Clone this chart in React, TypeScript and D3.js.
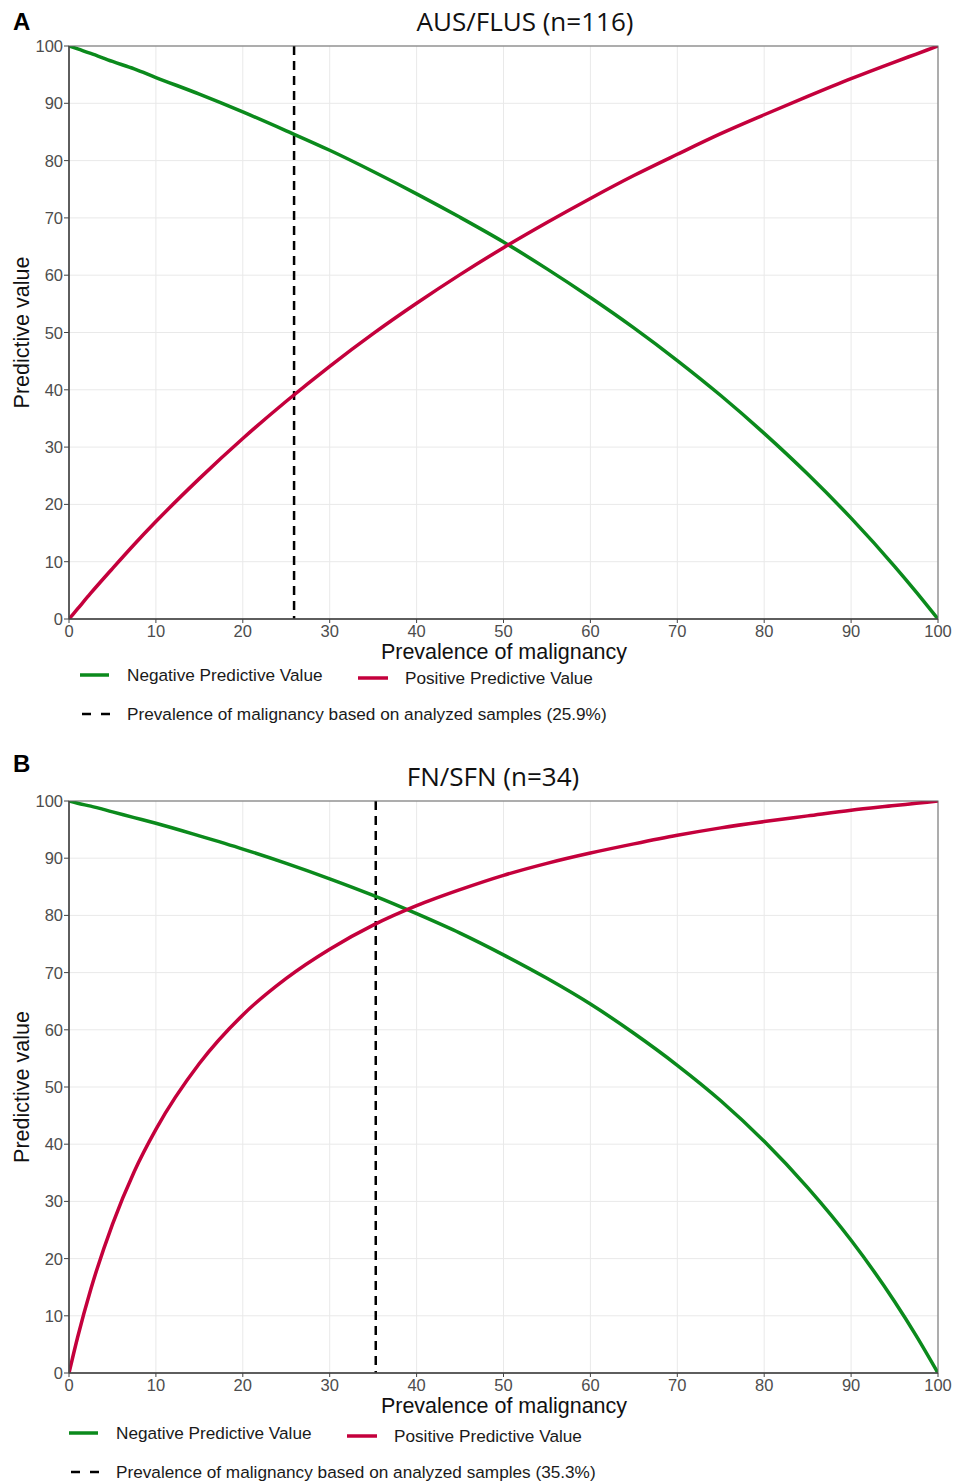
import React from 'react';
import * as d3 from 'd3';

// prevalence of malignancy (%) at which the curves were read
const prevalence = [0, 1, 2.5, 5, 7.5, 10, 15, 20, 25, 30, 35, 40, 45, 50, 55, 60, 65, 70, 75, 80, 85, 90, 95, 97.5, 100];

// panel A: AUS/FLUS
const npvA = [100, 99.5, 98.7, 97.3, 96.0, 94.5, 91.6, 88.5, 85.2, 81.8, 78.1, 74.2, 70.1, 65.8, 61.1, 56.1, 50.8, 45.1, 39.0, 32.4, 25.3, 17.6, 9.2, 4.7, 0];
const ppvA = [0, 1.8, 4.5, 8.8, 13.0, 17.0, 24.5, 31.5, 38.0, 44.1, 49.8, 55.1, 60.1, 64.8, 69.2, 73.4, 77.4, 81.1, 84.7, 88.0, 91.2, 94.3, 97.2, 98.6, 100];

// panel B: FN/SFN
const npvB = [100, 99.6, 99.1, 98.1, 97.1, 96.1, 93.9, 91.6, 89.1, 86.4, 83.5, 80.3, 76.9, 73.1, 69.0, 64.5, 59.4, 53.8, 47.6, 40.5, 32.4, 23.2, 12.5, 6.5, 0];
const ppvB = [0, 6.3, 14.6, 26.0, 35.2, 42.6, 54.1, 62.6, 69.0, 74.1, 78.3, 81.7, 84.5, 87.0, 89.1, 90.9, 92.5, 94.0, 95.3, 96.4, 97.4, 98.4, 99.2, 99.6, 100];

const ticks = [0, 10, 20, 30, 40, 50, 60, 70, 80, 90, 100];

const GREEN = '#0b8a1c';
const RED = '#c4003c';
const SANS = '"Liberation Sans", Arial, sans-serif';

type PanelProps = {
    letter: string;
    letterY: number;
    title: string;
    titleX: number;
    top: number;
    bottom: number;
    npv: number[];
    ppv: number[];
    sample: number;
    legendX: number;
    legendY: number;
};

function Panel({ letter, letterY, title, titleX, top, bottom, npv, ppv, sample, legendX, legendY }: PanelProps) {
    const left = 69;
    const right = 938;
    const x = d3.scaleLinear().domain([0, 100]).range([left, right]);
    const y = d3.scaleLinear().domain([0, 100]).range([bottom, top]);

    const line = d3.line<number>()
        .x((d, i) => x(prevalence[i]))
        .y(d => y(d))
        .curve(d3.curveMonotoneX);

    const clipId = 'clip-' + letter;
    const lg = legendY; // first legend row
    return (
        <g>
            <text x={13} y={letterY} fontFamily={SANS} fontWeight="bold" fontSize={24}>{letter}</text>
            <text x={titleX} y={top - 15} textAnchor="middle" fontFamily='"Open Sans", sans-serif' fontSize={26} fill="#111">{title}</text>

            <clipPath id={clipId}>
                <rect x={left} y={top} width={right - left} height={bottom - top} />
            </clipPath>
            <rect x={left} y={top} width={right - left} height={bottom - top} fill="#fff" />

            {ticks.map(t => (
                <g key={'g' + t}>
                    <line x1={x(t)} x2={x(t)} y1={top} y2={bottom} stroke="#e9e9e9" strokeWidth={1} />
                    <line x1={left} x2={right} y1={y(t)} y2={y(t)} stroke="#e9e9e9" strokeWidth={1} />
                </g>
            ))}

            <g clipPath={`url(#${clipId})`}>
                <line x1={x(sample)} x2={x(sample)} y1={top} y2={bottom} stroke="#000" strokeWidth={2.5} strokeDasharray="9,6" />
                <path d={line(npv) || ''} fill="none" stroke={GREEN} strokeWidth={3.5} />
                <path d={line(ppv) || ''} fill="none" stroke={RED} strokeWidth={3.5} />
            </g>

            <rect x={left} y={top} width={right - left} height={bottom - top} fill="none" stroke="#666" strokeWidth={1} />
            <line x1={left} x2={left} y1={top} y2={bottom} stroke="#444" strokeWidth={1.5} />
            <line x1={left} x2={right} y1={bottom} y2={bottom} stroke="#444" strokeWidth={1.5} />

            {ticks.map(t => (
                <g key={'t' + t} fontFamily={SANS} fontSize={16.5} fill="#4d4d4d">
                    <line x1={left - 5} x2={left} y1={y(t)} y2={y(t)} stroke="#444" />
                    <text x={left - 6} y={y(t) + 6} textAnchor="end">{t}</text>
                    <line x1={x(t)} x2={x(t)} y1={bottom} y2={bottom + 4} stroke="#444" />
                    <text x={x(t)} y={bottom + 18} textAnchor="middle">{t}</text>
                </g>
            ))}

            <text x={504} y={bottom + 40} textAnchor="middle" fontFamily={SANS} fontSize={21.5} fill="#111">Prevalence of malignancy</text>
            <text transform={`translate(29,${(top + bottom) / 2}) rotate(-90)`} textAnchor="middle" fontFamily={SANS} fontSize={21.5} fill="#111">Predictive value</text>

            <g fontFamily={SANS} fontSize={17.2} fill="#1a1a1a">
                <line x1={legendX} x2={legendX + 29} y1={lg} y2={lg} stroke={GREEN} strokeWidth={3.5} />
                <text x={legendX + 47} y={lg + 6}>Negative Predictive Value</text>
                <line x1={legendX + 278} x2={legendX + 308} y1={lg + 3} y2={lg + 3} stroke={RED} strokeWidth={3.5} />
                <text x={legendX + 325} y={lg + 9}>Positive Predictive Value</text>
                <line x1={legendX + 2} x2={legendX + 30} y1={lg + 39} y2={lg + 39} stroke="#000" strokeWidth={2.5} strokeDasharray="9,10" />
                <text x={legendX + 47} y={lg + 45}>{`Prevalence of malignancy based on analyzed samples (${sample}%)`}</text>
            </g>
        </g>
    );
}

export default function App() {
    return (
        <svg width={954} height={1482} style={{ position: 'absolute', left: 0, top: 0, background: '#fff' }}>
            <rect width={954} height={1482} fill="#fff" />
            <Panel letter="A" letterY={30} title="AUS/FLUS (n=116)" titleX={525} top={46} bottom={619} npv={npvA} ppv={ppvA} sample={25.9} legendX={80} legendY={675} />
            <Panel letter="B" letterY={772} title="FN/SFN (n=34)" titleX={493} top={801} bottom={1373} npv={npvB} ppv={ppvB} sample={35.3} legendX={69} legendY={1433} />
        </svg>
    );
}
